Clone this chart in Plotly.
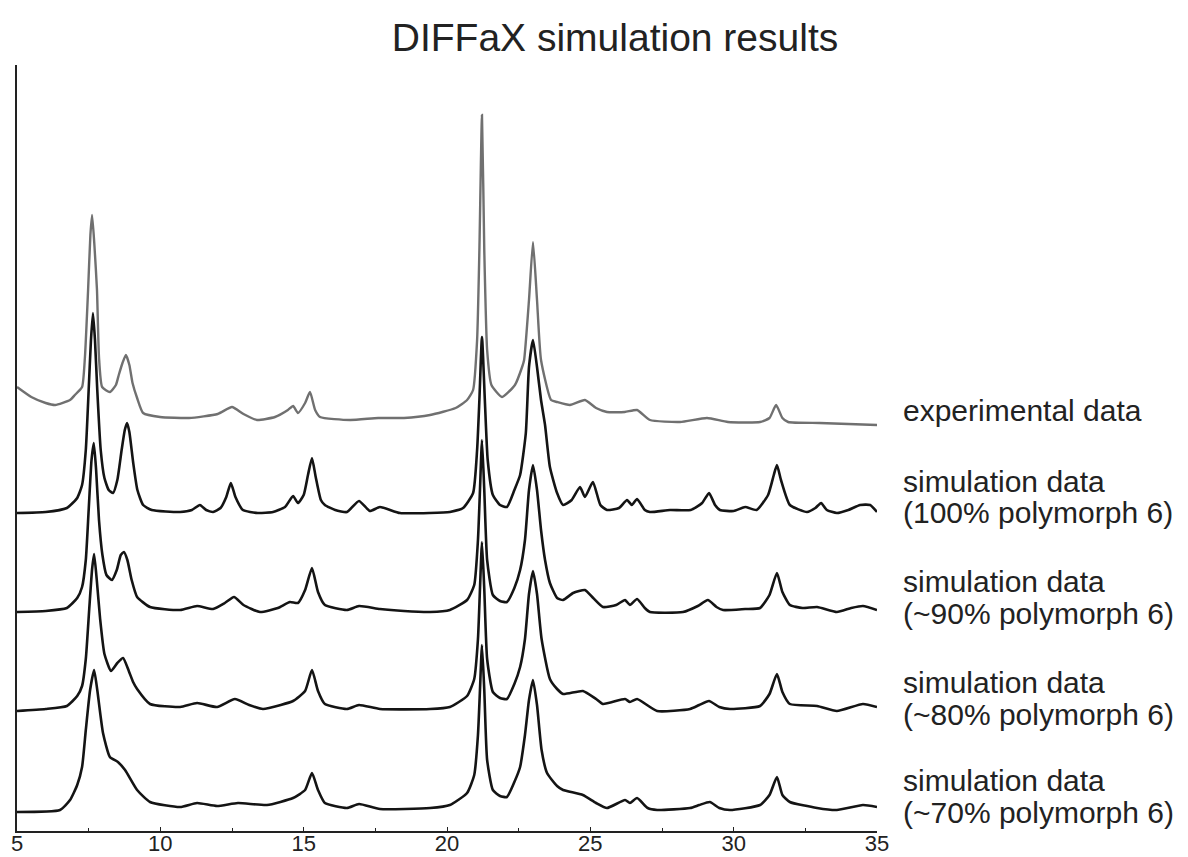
import plotly.graph_objects as go

# 2-theta (deg) and relative intensity (a.u.), per pattern
exp_x = [5.00, 5.5, 6.0, 6.33, 6.85, 7.02, 7.27, 7.37, 7.48, 7.56, 7.62, 7.70, 7.79, 7.86, 7.97, 8.24, 8.45, 8.55, 8.68, 8.80, 8.92, 9.03, 9.19, 9.40, 9.99, 11.0, 12.0, 12.5, 12.9, 13.37, 14.0, 14.45, 14.63, 14.80, 15.05, 15.22, 15.40, 15.57, 16.62, 17.6, 18.5, 19.41, 20.3, 20.70, 20.91, 21.05, 21.13, 21.22, 21.30, 21.40, 21.55, 21.92, 22.37, 22.62, 22.69, 22.86, 23.00, 23.14, 23.28, 23.63, 23.84, 24.29, 24.81, 25.2, 25.58, 26.2, 26.63, 27.08, 28.13, 29.07, 29.8, 30.92, 31.25, 31.48, 31.70, 31.90, 33.0, 34.0, 35.0]
exp_y = [38, 28, 22, 20, 25, 30, 38, 68, 135, 190, 210, 180, 135, 68, 38, 33, 40, 50, 62, 70, 60, 42, 27, 12, 8, 7, 11, 18, 11, 5, 8, 15, 19, 12, 22, 33, 15, 8, 5, 7, 7, 10, 17, 25, 35, 85, 175, 310, 175, 75, 40, 28, 40, 58, 65, 125, 183, 125, 65, 25, 23, 20, 25, 17, 13, 13, 15, 5, 3, 7, 3, 3, 7, 20, 7, 3, 2, 1, 0]

s100_x = [5.00, 6.0, 6.74, 7.10, 7.27, 7.40, 7.50, 7.58, 7.65, 7.72, 7.80, 7.92, 8.05, 8.20, 8.35, 8.50, 8.65, 8.76, 8.84, 8.92, 9.05, 9.20, 9.40, 9.70, 10.69, 11.1, 11.38, 11.6, 11.84, 12.1, 12.30, 12.46, 12.62, 12.88, 13.4, 13.93, 14.35, 14.63, 14.80, 15.0, 15.15, 15.29, 15.42, 15.60, 15.74, 16.1, 16.51, 16.93, 17.31, 17.66, 18.36, 19.4, 20.1, 20.56, 20.91, 21.05, 21.13, 21.22, 21.32, 21.42, 21.60, 21.85, 22.09, 22.35, 22.55, 22.75, 22.86, 23.00, 23.14, 23.28, 23.42, 23.59, 23.84, 24.05, 24.35, 24.64, 24.81, 25.09, 25.35, 25.58, 26.0, 26.28, 26.45, 26.63, 26.9, 27.08, 27.78, 28.5, 28.9, 29.14, 29.35, 29.52, 30.0, 30.4, 30.8, 31.2, 31.40, 31.51, 31.65, 31.96, 32.56, 32.85, 33.05, 33.25, 33.60, 34.0, 34.41, 34.76, 35.0]
s100_y = [0, 1, 5, 15, 28, 63, 123, 173, 200, 173, 123, 63, 35, 23, 20, 33, 63, 83, 90, 81, 51, 23, 8, 3, 1, 3, 8, 3, 1, 5, 16, 30, 16, 3, 0, 1, 6, 17, 10, 18, 38, 55, 36, 13, 8, 3, 1, 12, 2, 6, 0, 0, 1, 5, 20, 63, 113, 176, 113, 53, 18, 8, 6, 23, 38, 80, 146, 173, 146, 113, 88, 46, 20, 8, 13, 26, 16, 31, 8, 3, 5, 13, 8, 14, 3, 1, 3, 3, 10, 20, 8, 3, 2, 6, 3, 18, 38, 48, 33, 8, 1, 5, 10, 3, 0, 3, 8, 8, 1]

s90_x = [5.00, 6.0, 6.74, 7.10, 7.27, 7.40, 7.50, 7.60, 7.68, 7.76, 7.86, 7.98, 8.12, 8.31, 8.48, 8.62, 8.73, 8.85, 9.00, 9.19, 9.64, 10.69, 11.28, 11.84, 12.25, 12.57, 12.9, 13.48, 14.1, 14.52, 14.80, 15.05, 15.29, 15.50, 15.74, 16.51, 16.93, 17.66, 18.5, 19.41, 20.1, 20.70, 20.95, 21.08, 21.15, 21.22, 21.30, 21.40, 21.60, 21.85, 22.09, 22.35, 22.55, 22.72, 22.86, 23.00, 23.14, 23.28, 23.42, 23.59, 23.84, 24.05, 24.4, 24.81, 25.1, 25.44, 25.9, 26.21, 26.38, 26.63, 26.9, 27.08, 28.23, 28.75, 29.10, 29.4, 29.63, 30.4, 30.92, 31.25, 31.51, 31.70, 31.96, 32.4, 32.91, 33.60, 34.1, 34.51, 35.0]
s90_y = [0, 1, 4, 14, 25, 52, 102, 152, 169, 142, 92, 57, 37, 32, 42, 57, 60, 52, 32, 15, 5, 2, 6, 3, 9, 15, 7, 0, 4, 10, 9, 22, 44, 20, 7, 2, 6, 3, 1, 0, 2, 12, 27, 72, 122, 172, 122, 52, 17, 11, 10, 24, 42, 72, 122, 147, 122, 82, 52, 29, 14, 12, 19, 22, 14, 5, 7, 12, 7, 13, 4, 0, 0, 6, 12, 5, 2, 3, 4, 17, 39, 20, 7, 4, 5, 0, 4, 6, 2]

s80_x = [5.00, 6.0, 6.74, 7.10, 7.27, 7.40, 7.52, 7.62, 7.69, 7.78, 7.90, 8.05, 8.28, 8.50, 8.70, 8.90, 9.05, 9.19, 9.64, 10.69, 11.28, 11.98, 12.60, 13.1, 13.58, 14.2, 14.63, 15.05, 15.29, 15.50, 15.74, 16.51, 16.93, 17.66, 19.41, 20.1, 20.70, 20.95, 21.08, 21.15, 21.22, 21.30, 21.40, 21.60, 21.85, 22.09, 22.35, 22.55, 22.72, 22.86, 23.00, 23.14, 23.30, 23.59, 23.84, 24.05, 24.74, 25.2, 25.44, 26.21, 26.38, 26.63, 27.33, 28.48, 28.8, 29.14, 29.5, 29.87, 30.92, 31.25, 31.51, 31.70, 31.96, 32.91, 33.60, 34.51, 35.0]
s80_y = [0, 2, 5, 15, 25, 52, 102, 142, 157, 132, 92, 57, 40, 48, 53, 40, 29, 22, 7, 4, 8, 4, 12, 6, 2, 6, 10, 20, 41, 20, 7, 2, 6, 2, 2, 4, 15, 32, 72, 122, 169, 122, 52, 19, 13, 12, 27, 44, 72, 117, 140, 117, 72, 32, 22, 17, 20, 12, 7, 12, 9, 12, 0, 2, 6, 10, 4, 2, 5, 17, 37, 19, 7, 5, 0, 7, 4]

s70_x = [5.00, 6.50, 6.85, 7.10, 7.27, 7.40, 7.55, 7.69, 7.80, 8.00, 8.24, 8.52, 8.77, 9.19, 9.64, 10.69, 11.28, 11.98, 12.71, 13.72, 14.63, 15.05, 15.29, 15.50, 15.74, 16.51, 16.93, 17.66, 19.41, 20.1, 20.70, 20.95, 21.08, 21.15, 21.22, 21.30, 21.40, 21.60, 21.85, 22.09, 22.35, 22.55, 22.72, 22.86, 23.00, 23.14, 23.30, 23.49, 23.84, 24.05, 24.74, 25.2, 25.58, 26.21, 26.38, 26.63, 27.0, 27.33, 28.48, 28.8, 29.17, 29.5, 29.87, 30.92, 31.25, 31.51, 31.70, 31.96, 32.91, 33.60, 34.51, 35.0]
s70_y = [0, 2, 12, 27, 45, 82, 122, 142, 122, 79, 55, 50, 42, 22, 10, 5, 9, 6, 9, 7, 14, 22, 39, 22, 9, 4, 8, 3, 4, 7, 19, 37, 77, 122, 167, 122, 52, 22, 16, 15, 30, 45, 77, 112, 132, 107, 62, 39, 26, 22, 17, 9, 4, 12, 9, 14, 4, 2, 4, 7, 10, 4, 2, 7, 17, 35, 17, 10, 4, 2, 7, 5]

# vertical stacking offsets (a.u.) for each pattern
offsets = {"exp": 406, "s100": 318, "s90": 219, "s80": 120, "s70": 19}

# right-hand labels: one entry per text line, with its height on the intensity axis
label_lines = ["experimental data",
               "simulation data", "(100% polymorph 6)",
               "simulation data", "(~90% polymorph 6)",
               "simulation data", "(~80% polymorph 6)",
               "simulation data", "(~70% polymorph 6)"]
label_line_y = [421, 350, 319, 250, 218, 149, 117, 51, 19]

x_ticks = [5, 10, 15, 20, 25, 30, 35]
title = "DIFFaX simulation results"

FONT = "Liberation Sans, Arial, Helvetica, sans-serif"

series = [
    ("exp", exp_x, exp_y, "#707070", 2.4),
    ("s100", s100_x, s100_y, "#141414", 2.6),
    ("s90", s90_x, s90_y, "#141414", 2.6),
    ("s80", s80_x, s80_y, "#141414", 2.6),
    ("s70", s70_x, s70_y, "#141414", 2.6),
]

fig = go.Figure()
for key, xs, ys, col, w in series:
    off = offsets[key]
    fig.add_trace(go.Scatter(
        x=xs, y=[v + off for v in ys], mode="lines",
        line=dict(color=col, width=w, shape="spline", smoothing=0.5),
        showlegend=False, hoverinfo="skip", cliponaxis=False,
    ))

for txt, yy in zip(label_lines, label_line_y):
    fig.add_annotation(x=1.028, y=yy, xref="paper", yref="y", text=txt,
                       showarrow=False, xanchor="left", yanchor="middle",
                       align="left", font=dict(family=FONT, size=30, color="#222"))

W, H = 1180, 849  # page body adds an 8 px margin
fig.update_layout(
    width=W, height=H,
    margin=dict(l=9, r=W - 869, t=57, b=H - 823, autoexpand=False),
    paper_bgcolor="white", plot_bgcolor="white",
    title=dict(text=title, x=607 / W, xanchor="center", xref="container",
               y=1 - 29 / H, yref="container", yanchor="middle",
               font=dict(family=FONT, size=39, color="#222")),
    xaxis=dict(range=[5, 35], tickvals=x_ticks, ticktext=[str(t) for t in x_ticks],
               automargin=False, ticklabelstandoff=-8,
               showline=True, linecolor="#222", linewidth=1.5,
               ticks="inside", ticklen=4, tickcolor="#222", showgrid=False, zeroline=False,
               minor=dict(ticks="inside", ticklen=3, dtick=2.5, tick0=5, tickcolor="#222", showgrid=False),
               tickfont=dict(family=FONT, size=22, color="#222")),
    yaxis=dict(range=[0, 766], showline=True, linecolor="#222", linewidth=1.5,
               automargin=False,
               showticklabels=False, ticks="", showgrid=False, zeroline=False),
)

fig.write_html("out.html")
